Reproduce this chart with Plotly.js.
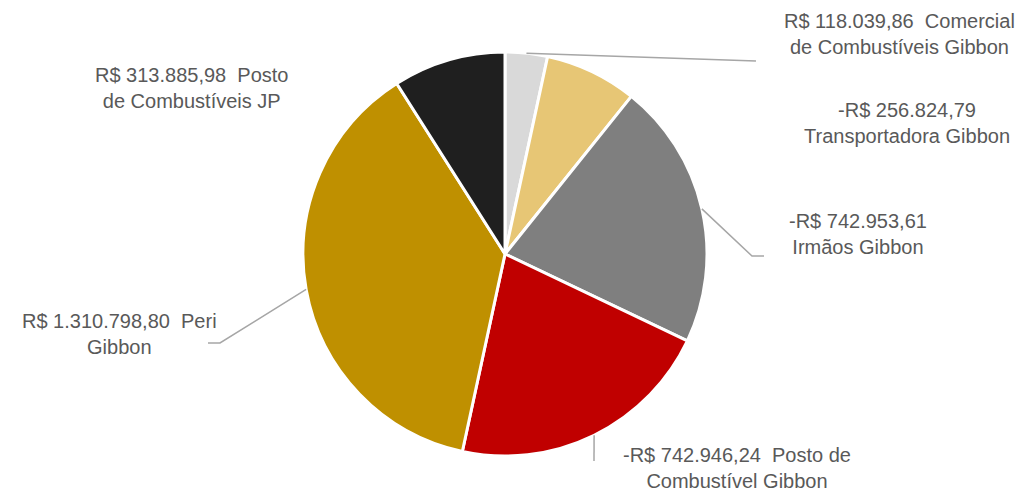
<!DOCTYPE html>
<html>
<head>
<meta charset="utf-8">
<script src="https://cdn.plot.ly/plotly-3.0.1.min.js"></script>
<style>html,body{margin:0;padding:0;background:#fff;}#chart{width:1032px;height:492px;}</style>
</head>
<body>
<div id="chart"></div>
<script>
const categories = [
  "Comercial de Combustíveis Gibbon",
  "Transportadora Gibbon",
  "Irmãos Gibbon",
  "Posto de Combustível Gibbon",
  "Peri Gibbon",
  "Posto de Combustíveis JP"
];
const values = [118039.86, 256824.79, 742953.61, 742946.24, 1310798.80, 313885.98];
const labelTexts = [
  "R$ 118.039,86  Comercial<br>de Combustíveis Gibbon",
  "-R$ 256.824,79<br>Transportadora Gibbon",
  "-R$ 742.953,61<br>Irmãos Gibbon",
  "-R$ 742.946,24  Posto de<br>Combustível Gibbon",
  "R$ 1.310.798,80  Peri<br>Gibbon",
  "R$ 313.885,98  Posto<br>de Combustíveis JP"
];
const colors = ["#d9d9d9", "#e7c675", "#7f7f7f", "#c00000", "#bf9000", "#1f1f1f"];

// layout geometry (pixels)
const W = 1032, H = 492;
const CX = 505, CY = 254, R = 202;
const labelPos = [[899, 33.5], [907, 123], [858, 234.5], [737, 467.5], [119, 333.5], [191, 87.5]];
// leader line bends / ends (null = no leader line)
const leaderPts = [
  [[756, 61]],
  null,
  [[752, 256], [764, 256]],
  [[594, 461]],
  [[220, 343], [208, 343]],
  null
];

const px = x => x / W;
const py = y => 1 - y / H;

const total = values.reduce((a, b) => a + b, 0);
let cum = 0;
const shapes = [];
values.forEach((v, i) => {
  const mid = (cum + v / 2) / total * 2 * Math.PI;
  cum += v;
  if (!leaderPts[i]) return;
  const sx = CX + R * Math.sin(mid), sy = CY - R * Math.cos(mid);
  let path = `M${px(sx)},${py(sy)}`;
  leaderPts[i].forEach(p => { path += ` L${px(p[0])},${py(p[1])}`; });
  shapes.push({type: 'path', xref: 'paper', yref: 'paper', path: path,
    line: {color: '#a6a6a6', width: 1.5}});
});

const annotations = labelTexts.map((t, i) => ({
  text: t, xref: 'paper', yref: 'paper',
  x: px(labelPos[i][0]), y: py(labelPos[i][1]),
  xanchor: 'center', yanchor: 'middle', align: 'center', showarrow: false,
  font: {family: 'Liberation Sans, Arial, sans-serif', size: 20, color: '#595959'}
}));

const trace = {
  type: 'pie', labels: categories, values: values, sort: false,
  direction: 'clockwise', rotation: 0, textinfo: 'none', hoverinfo: 'label+value',
  marker: {colors: colors, line: {color: '#ffffff', width: 3}},
  domain: {x: [px(CX - R), px(CX + R)], y: [py(CY + R), py(CY - R)]},
  showlegend: false
};

Plotly.newPlot('chart', [trace], {
  width: W, height: H, margin: {l: 0, r: 0, t: 0, b: 0},
  paper_bgcolor: '#ffffff', plot_bgcolor: '#ffffff',
  showlegend: false, shapes: shapes, annotations: annotations
}, {displayModeBar: false, staticPlot: true});
</script>
</body>
</html>
